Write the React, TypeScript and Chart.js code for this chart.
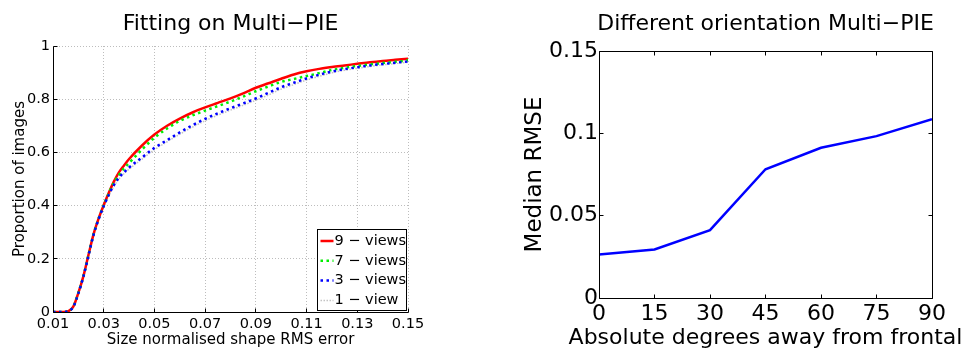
import { useEffect, useRef } from "react";
import { Chart, registerables } from "chart.js";

Chart.register(...registerables);

const FONT = "'DejaVu Sans', 'Liberation Sans', sans-serif";

// ---------- Left chart: cumulative error curves ----------
const errorBins = [
  0.01, 0.012, 0.014, 0.016, 0.018, 0.02, 0.022, 0.024, 0.026, 0.028, 0.03,
  0.032, 0.034, 0.036, 0.038, 0.04, 0.045, 0.05, 0.055, 0.06, 0.065, 0.07,
  0.075, 0.08, 0.085, 0.09, 0.095, 0.1, 0.105, 0.11, 0.115, 0.12, 0.125, 0.13,
  0.135, 0.14, 0.145, 0.15,
];
const nineViews = [
  0, 0, 0, 0.003, 0.02, 0.072, 0.135, 0.215, 0.293, 0.352, 0.402, 0.448, 0.49,
  0.525, 0.551, 0.575, 0.625, 0.667, 0.7, 0.727, 0.75, 0.769, 0.786, 0.803,
  0.822, 0.843, 0.86, 0.877, 0.893, 0.905, 0.914, 0.921, 0.927, 0.933, 0.939,
  0.944, 0.948, 0.952,
];
const sevenViews = [
  0, 0, 0, 0.003, 0.02, 0.072, 0.135, 0.215, 0.293, 0.352, 0.401, 0.446, 0.486,
  0.515, 0.54, 0.56, 0.61, 0.655, 0.69, 0.718, 0.739, 0.757, 0.774, 0.791,
  0.81, 0.83, 0.848, 0.865, 0.876, 0.887, 0.898, 0.91, 0.918, 0.925, 0.931,
  0.936, 0.941, 0.946,
];
const threeViews = [
  0, 0, 0, 0.003, 0.019, 0.07, 0.133, 0.212, 0.29, 0.349, 0.398, 0.44, 0.477,
  0.505, 0.525, 0.543, 0.58, 0.617, 0.646, 0.675, 0.702, 0.726, 0.747, 0.766,
  0.784, 0.803, 0.824, 0.845, 0.862, 0.878, 0.892, 0.904, 0.913, 0.92, 0.927,
  0.932, 0.937, 0.942,
];
const oneView = [
  0, 0, 0, 0.002, 0.017, 0.068, 0.131, 0.21, 0.288, 0.346, 0.395, 0.436, 0.472,
  0.5, 0.52, 0.537, 0.574, 0.61, 0.64, 0.668, 0.695, 0.719, 0.74, 0.759, 0.777,
  0.796, 0.816, 0.838, 0.855, 0.872, 0.886, 0.899, 0.909, 0.916, 0.923, 0.929,
  0.934, 0.939,
];
const seriesLabels = ["9 − views", "7 − views", "3 − views", "1 − view"];
const errorTicks = [0.01, 0.03, 0.05, 0.07, 0.09, 0.11, 0.13, 0.15];
const errorTickLabels = ["0.01", "0.03", "0.05", "0.07", "0.09", "0.11", "0.13", "0.15"];
const proportionTicks = [0, 0.2, 0.4, 0.6, 0.8, 1];
const proportionTickLabels = ["0", "0.2", "0.4", "0.6", "0.8", "1"];

// ---------- Right chart: median RMSE vs orientation ----------
const angles = [0, 15, 30, 45, 60, 75, 90];
const medianRmse = [0.0264, 0.0295, 0.0412, 0.0782, 0.0912, 0.0983, 0.1086];
const angleTickLabels = ["0", "15", "30", "45", "60", "75", "90"];
const rmseTicks = [0, 0.05, 0.1, 0.15];
const rmseTickLabels = ["0", "0.05", "0.1", "0.15"];

type TextCfg = {
  title: string; titleSize: number; titleBaseline: number;
  xTitle: string; xSize: number; xBaseline: number;
  yTitle: string; ySize: number; yBaseline: number;
};

const textPlugin = (c: TextCfg) => ({
  id: "axisTexts",
  afterDraw(chart: any) {
    const { ctx, chartArea: a } = chart;
    const cx = (a.left + a.right) / 2;
    const cy = (a.top + a.bottom) / 2;
    ctx.save();
    ctx.fillStyle = "#000";
    ctx.textAlign = "center";
    ctx.textBaseline = "alphabetic";
    ctx.font = `${c.titleSize}px ${FONT}`;
    ctx.fillText(c.title, cx, c.titleBaseline);
    ctx.font = `${c.xSize}px ${FONT}`;
    ctx.fillText(c.xTitle, cx, c.xBaseline);
    ctx.translate(c.yBaseline, cy);
    ctx.rotate(-Math.PI / 2);
    ctx.font = `${c.ySize}px ${FONT}`;
    ctx.fillText(c.yTitle, 0, 0);
    ctx.restore();
  },
});

const crisp = (v: number) => Math.round(v - 0.5) + 0.5;

const axesPlugin = (box: boolean, len: number) => ({
  id: "matlabAxes",
  afterDraw(chart: any) {
    const { ctx, chartArea: a } = chart;
    const xs = chart.scales.x;
    const ys = chart.scales.y;
    const L = crisp(a.left), R = crisp(a.right), T = crisp(a.top), B = crisp(a.bottom);
    ctx.save();
    ctx.strokeStyle = "#000";
    ctx.lineWidth = 1;
    ctx.setLineDash([]);
    ctx.beginPath();
    ctx.moveTo(L, T); ctx.lineTo(L, B); ctx.lineTo(R, B);
    if (box) { ctx.lineTo(R, T); ctx.lineTo(L, T); }
    xs.ticks.forEach((t: any) => {
      const px = crisp(xs.getPixelForValue(t.value));
      ctx.moveTo(px, B); ctx.lineTo(px, B - len);
      if (box) { ctx.moveTo(px, T); ctx.lineTo(px, T + len); }
    });
    ys.ticks.forEach((t: any) => {
      const py = crisp(ys.getPixelForValue(t.value));
      ctx.moveTo(L, py); ctx.lineTo(L + len, py);
      if (box) { ctx.moveTo(R, py); ctx.lineTo(R - len, py); }
    });
    ctx.stroke();
    ctx.restore();
  },
});

const insetLegend = {
  id: "insetLegend",
  afterDraw(chart: any) {
    const { ctx, chartArea: a } = chart;
    const w = 89, h = 81;
    const x0 = crisp(a.right - 2 - w);
    const y0 = crisp(a.bottom - 2 - h);
    ctx.save();
    ctx.fillStyle = "#fff";
    ctx.fillRect(x0, y0, w, h);
    ctx.strokeStyle = "#000";
    ctx.lineWidth = 1;
    ctx.setLineDash([]);
    ctx.strokeRect(x0, y0, w, h);
    ctx.font = `14.5px ${FONT}`;
    ctx.textBaseline = "middle";
    ctx.textAlign = "left";
    chart.data.datasets.forEach((ds: any, i: number) => {
      const y = y0 + 11.5 + i * 19.8;
      ctx.beginPath();
      ctx.strokeStyle = ds.borderColor;
      ctx.lineWidth = ds.borderWidth;
      ctx.setLineDash(ds.borderDash || []);
      ctx.moveTo(x0 + 3, y);
      ctx.lineTo(x0 + 16, y);
      ctx.stroke();
      ctx.setLineDash([]);
      ctx.fillStyle = "#000";
      ctx.fillText(ds.label, x0 + 17, y);
    });
    ctx.restore();
  },
};

const pts = (xs: number[], ys: number[]) => xs.map((x, i) => ({ x, y: ys[i] }));

export default function App() {
  const leftRef = useRef<HTMLCanvasElement>(null);
  const rightRef = useRef<HTMLCanvasElement>(null);

  useEffect(() => {
    const common = { pointRadius: 0, fill: false, borderCapStyle: "butt" as const };
    const left = new Chart(leftRef.current!, {
      type: "line",
      data: {
        datasets: [
          { ...common, label: seriesLabels[0], data: pts(errorBins, nineViews), borderColor: "#ff0000", borderWidth: 2.5, cubicInterpolationMode: "monotone", order: 3 },
          { ...common, label: seriesLabels[1], data: pts(errorBins, sevenViews), borderColor: "#00ee00", borderWidth: 2.5, borderDash: [2.5, 3.5], cubicInterpolationMode: "monotone", order: 2 },
          { ...common, label: seriesLabels[2], data: pts(errorBins, threeViews), borderColor: "#0000ff", borderWidth: 2.5, borderDash: [2.5, 3.5], cubicInterpolationMode: "monotone", order: 1 },
          { ...common, label: seriesLabels[3], data: pts(errorBins, oneView), borderColor: "#c4c4c4", borderWidth: 1.5, borderDash: [1.5, 1.5], cubicInterpolationMode: "monotone", order: 4 },
        ],
      } as any,
      options: {
        animation: false,
        responsive: false,
        events: [],
        layout: { padding: { left: 0, right: 72, top: 46, bottom: 0 } },
        plugins: { legend: { display: false }, tooltip: { enabled: false }, title: { display: false } },
        scales: {
          x: {
            type: "linear", min: 0.01, max: 0.15,
            afterBuildTicks: (s: any) => { s.ticks = errorTicks.map((v) => ({ value: v })); },
            afterFit: (s: any) => { s.height = 37; },
            ticks: { autoSkip: false, maxRotation: 0, padding: 3.5, color: "#000", font: { family: FONT, size: 14.5 }, callback: (_v: any, i: number) => errorTickLabels[i] },
            grid: { color: "#bdbdbd", lineWidth: 1, drawTicks: false },
            border: { display: false, dash: [1, 2] },
          },
          y: {
            type: "linear", min: 0, max: 1,
            afterBuildTicks: (s: any) => { s.ticks = proportionTicks.map((v) => ({ value: v })); },
            afterFit: (s: any) => { s.width = 53; },
            ticks: { autoSkip: false, padding: 3, color: "#000", font: { family: FONT, size: 14.5 }, callback: (_v: any, i: number) => proportionTickLabels[i] },
            grid: { color: "#bdbdbd", lineWidth: 1, drawTicks: false },
            border: { display: false, dash: [1, 2] },
          },
        },
      } as any,
      plugins: [
        axesPlugin(false, 4),
        insetLegend,
        textPlugin({
          title: "Fitting on Multi−PIE", titleSize: 22, titleBaseline: 29.5,
          xTitle: "Size normalised shape RMS error", xSize: 15, xBaseline: 343.5,
          yTitle: "Proportion of images", ySize: 15, yBaseline: 23.5,
        }),
      ],
    });

    const right = new Chart(rightRef.current!, {
      type: "line",
      data: {
        datasets: [
          { ...common, label: "Median RMSE", data: pts(angles, medianRmse), borderColor: "#0000ff", borderWidth: 2.5, tension: 0 },
        ],
      } as any,
      options: {
        animation: false,
        responsive: false,
        events: [],
        layout: { padding: { left: 0, right: 35, top: 51, bottom: 0 } },
        plugins: { legend: { display: false }, tooltip: { enabled: false }, title: { display: false } },
        scales: {
          x: {
            type: "linear", min: 0, max: 90,
            afterBuildTicks: (s: any) => { s.ticks = angles.map((v) => ({ value: v })); },
            afterFit: (s: any) => { s.height = 51; },
            ticks: { autoSkip: false, maxRotation: 0, padding: 3.5, color: "#000", font: { family: FONT, size: 22 }, callback: (_v: any, i: number) => angleTickLabels[i] },
            grid: { display: false, drawTicks: false },
            border: { display: false },
          },
          y: {
            type: "linear", min: 0, max: 0.15,
            afterBuildTicks: (s: any) => { s.ticks = rmseTicks.map((v) => ({ value: v })); },
            afterFit: (s: any) => { s.width = 119; },
            ticks: { autoSkip: false, padding: 1, color: "#000", font: { family: FONT, size: 22 }, callback: (_v: any, i: number) => rmseTickLabels[i] },
            grid: { display: false, drawTicks: false },
            border: { display: false },
          },
        },
      } as any,
      plugins: [
        axesPlugin(true, 4),
        textPlugin({
          title: "Different orientation Multi−PIE", titleSize: 22, titleBaseline: 30,
          xTitle: "Absolute degrees away from frontal", xSize: 22, xBaseline: 343.5,
          yTitle: "Median RMSE", ySize: 23, yBaseline: 61,
        }),
      ],
    });

    return () => {
      left.destroy();
      right.destroy();
    };
  }, []);

  return (
    <div style={{ position: "fixed", left: 0, top: 0, width: 967, height: 349, background: "#fff", overflow: "hidden" }}>
      <canvas ref={leftRef} width={480} height={349} style={{ position: "absolute", left: 0, top: 0, width: 480, height: 349 }} />
      <canvas ref={rightRef} width={487} height={349} style={{ position: "absolute", left: 480, top: 0, width: 487, height: 349 }} />
    </div>
  );
}
